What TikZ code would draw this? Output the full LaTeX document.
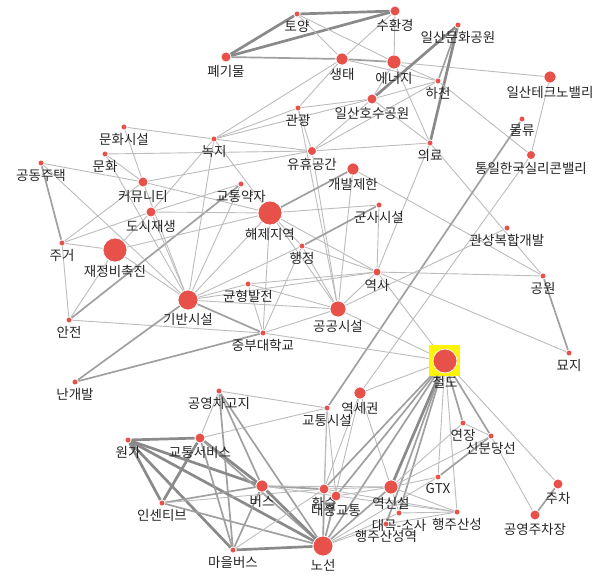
\documentclass[tikz,border=0pt]{standalone}
\usepackage{fontspec}
\newfontfamily\krfont{Noto Sans CJK KR}
\usetikzlibrary{backgrounds}
\definecolor{dotred}{RGB}{232,80,74}
\definecolor{edgelight}{RGB}{188,188,188}
\definecolor{edgemid}{RGB}{160,160,160}
\definecolor{edgedark}{RGB}{138,138,138}
\definecolor{hilite}{RGB}{255,245,0}
\tikzset{
  dot/.style={circle, fill=dotred, draw=white, line width=0.7pt, inner sep=0pt},
  lbl/.style={font=\krfont\fontsize{13.5}{15}\selectfont, text=black!85, inner sep=0pt},
  e1/.style={edgelight, line width=0.9pt},
  e2/.style={edgemid, line width=1.7pt},
  e3/.style={edgedark, line width=2.7pt},
}
\begin{document}
\begin{tikzpicture}[x=1pt, y=1pt]
  \useasboundingbox (0,0) rectangle (605,-577);
  \node[fill=hilite, minimum size=31pt, inner sep=0pt] (sel) at (444.5,-360) {}; % highlight
  % keywords: name/x/y/radius/text
  \foreach \n/\x/\y/\r/\t in {
      toyang/297/14/3/토양, suhwan/395/11/5/수환경, ilmun/458/25/3/일산문화공원,
      pegi/226/57/5/폐기물, saengtae/342/59/6/생태, energy/394/62/7/에너지,
      hacheon/438/81/3/하천, techno/550/77/6/일산테크노밸리, hosu/372/99/5/일산호수공원,
      gwangwang/298/108/3/관광, mulryu/522/119/3/물류, nokji/214/139/3/녹지,
      uiryo/430/143/3/의료, yuhyu/312/151/4.5/유휴공간, silicon/531/155/4.5/통일한국실리콘밸리,
      munsi/124/127/3/문화시설, munhwa/105/154/3/문화, gongdong/41/163/3/공동주택,
      community/143/182/5/커뮤니티, gaebal/353/169/6/개발제한, gyoyak/241/184/3/교통약자,
      dosi/151/212/5/도시재생, haeje/270/213/12/해제지역, gunsa/379/205/3/군사시설,
      jugeo/62/243/3/주거, jaejeong/115/250/12/재정비촉진, gwansang/507/228/3/관상복합개발,
      haengjeong/302/246/3/행정, yeoksa/377/272/4/역사, gongwon/543/276/3/공원,
      gyunhyeong/248/284/3/균형발전, giban/188/300/10/기반시설, gonggong/338/309/8/공공시설,
      anjeon/69/320/3/안전, jungbu/263/333/3/중부대학교, myoji/569/353/3/묘지,
      cheoldo/445/361/12/철도, nangaebal/75/382/3/난개발, yeoksegwon/360/393/6/역세권,
      gyosi/327/408/3/교통시설, chagoji/219/391/3/공영차고지, wonga/128/440/3/원가,
      gyoseo/200/438/5/교통서비스, yeonjang/463/423/3/연장, sinbundang/491/436/3/신분당선,
      bus/262/486/6/버스, incentive/162/503/3/인센티브, hwanseung/324/489/5/환승,
      daejung/336/496/5/대중교통, yeoksinseol/391/487/7/역신설, gtx/438/477/3/GTX,
      jucha/558/484/5/주차, gongju/535/515/5/공영주차장, daegok/399/513/3/대곡-소사,
      haengjuyeok/386/524/3/행주산성역, haengju/457/512/3/행주산성, maeul/233/550/3/마을버스,
      noseon/323/546/10/노선} {
    \node[dot, minimum size=2*\r, label={[lbl, label distance=2.5pt]below:\t}] (\n) at (\x,-\y) {};
  }
  \begin{scope}[on background layer]
    % co-occurrence links: from/to/weight
    \foreach \a/\b/\w in {
        pegi/toyang/3, pegi/suhwan/3, pegi/saengtae/2, toyang/suhwan/3, toyang/saengtae/1,
        toyang/energy/1, suhwan/energy/1, suhwan/saengtae/1, saengtae/energy/2,
        saengtae/gwangwang/1, saengtae/nokji/1, saengtae/hacheon/1,
        energy/hacheon/1, energy/uiryo/1, energy/techno/1, energy/hosu/1,
        ilmun/hacheon/2, ilmun/uiryo/3, ilmun/hosu/3,
        hosu/hacheon/1, hosu/gwangwang/1, hosu/yuhyu/1, hosu/nokji/1, hosu/uiryo/1,
        hacheon/silicon/1, hacheon/yuhyu/1, techno/silicon/1,
        gwangwang/nokji/1, gwangwang/yuhyu/1, gwangwang/gonggong/1,
        yuhyu/uiryo/1, yuhyu/munhwa/1, yuhyu/community/1, yuhyu/nokji/1, yuhyu/gonggong/1,
        uiryo/yeoksa/1, uiryo/gongwon/1, gaebal/gongwon/1, gaebal/gonggong/1,
        mulryu/gyosi/2, silicon/yeoksegwon/1,
        munsi/nokji/1, munsi/community/1, munhwa/community/1, gongdong/community/1,
        gongdong/jugeo/2, gongdong/giban/1, nokji/dosi/1, nokji/giban/1, nokji/haeje/1,
        jugeo/dosi/1, jugeo/jaejeong/1, jugeo/anjeon/1, jugeo/community/1,
        anjeon/jaejeong/1, anjeon/gyoyak/2, anjeon/jungbu/1,
        nangaebal/jungbu/2, nangaebal/giban/2,
        giban/jaejeong/1, giban/dosi/1, giban/community/1, giban/munhwa/1,
        giban/gyunhyeong/1, giban/jungbu/2, giban/gonggong/1, giban/haeje/1, giban/yeoksa/1,
        giban/haengjeong/1, giban/gyoyak/1,
        jaejeong/dosi/1, jaejeong/haeje/1, dosi/haeje/1, dosi/gyoyak/1, community/haeje/1,
        haeje/gaebal/2, haeje/gunsa/1, haeje/haengjeong/1, haeje/yeoksa/1, haeje/gonggong/1,
        haeje/jungbu/1, haengjeong/gunsa/2, haengjeong/jungbu/1, haengjeong/yeoksa/1,
        haengjeong/gonggong/1, gyunhyeong/jungbu/1, gyunhyeong/yeoksa/1, gyunhyeong/gonggong/1,
        jungbu/gonggong/1, jungbu/cheoldo/1, gonggong/yeoksa/1, gonggong/gwansang/1,
        gonggong/cheoldo/1, yeoksa/gongwon/1, yeoksa/myoji/1, yeoksa/gunsa/1, yeoksa/cheoldo/1,
        gongwon/myoji/2, cheoldo/yeoksegwon/1,
        yeoksegwon/hwanseung/1, yeoksegwon/yeoksinseol/1, yeoksegwon/noseon/1,
        gyosi/chagoji/1, gyosi/hwanseung/1, gyosi/noseon/1, gyosi/daejung/1, gyosi/gyoseo/1,
        chagoji/bus/2, chagoji/maeul/2, chagoji/noseon/2, chagoji/gyoseo/1,
        wonga/gyoseo/3, wonga/bus/3, wonga/maeul/3, wonga/incentive/3, wonga/noseon/3,
        gyoseo/incentive/3, gyoseo/bus/3, gyoseo/maeul/2, gyoseo/noseon/2,
        incentive/bus/2, incentive/noseon/2, incentive/hwanseung/1,
        bus/maeul/2, bus/noseon/3, bus/hwanseung/2, bus/daejung/1, bus/yeoksinseol/1,
        maeul/noseon/3, maeul/hwanseung/1,
        noseon/hwanseung/2, noseon/daejung/2, noseon/cheoldo/2, noseon/yeoksinseol/2,
        noseon/daegok/1, noseon/haengjuyeok/1, noseon/gtx/1,
        cheoldo/yeoksinseol/3, cheoldo/hwanseung/2, cheoldo/daejung/2, cheoldo/gtx/1,
        cheoldo/haengju/1, cheoldo/yeonjang/2, cheoldo/sinbundang/2, cheoldo/daegok/2,
        cheoldo/haengjuyeok/2, cheoldo/jucha/1,
        yeonjang/sinbundang/1, yeonjang/yeoksinseol/1, sinbundang/gtx/2, sinbundang/yeoksinseol/1,
        sinbundang/gongju/1, yeoksinseol/gtx/1, yeoksinseol/haengju/1, yeoksinseol/hwanseung/1,
        yeoksinseol/daejung/1, yeoksinseol/daegok/1, hwanseung/daejung/1, hwanseung/haengju/1,
        daejung/haengju/1, daegok/haengju/1, haengjuyeok/haengju/1, jucha/gongju/2} {
      \draw[e\w] (\a) -- (\b);
    }
  \end{scope}
\end{tikzpicture}
\end{document}
